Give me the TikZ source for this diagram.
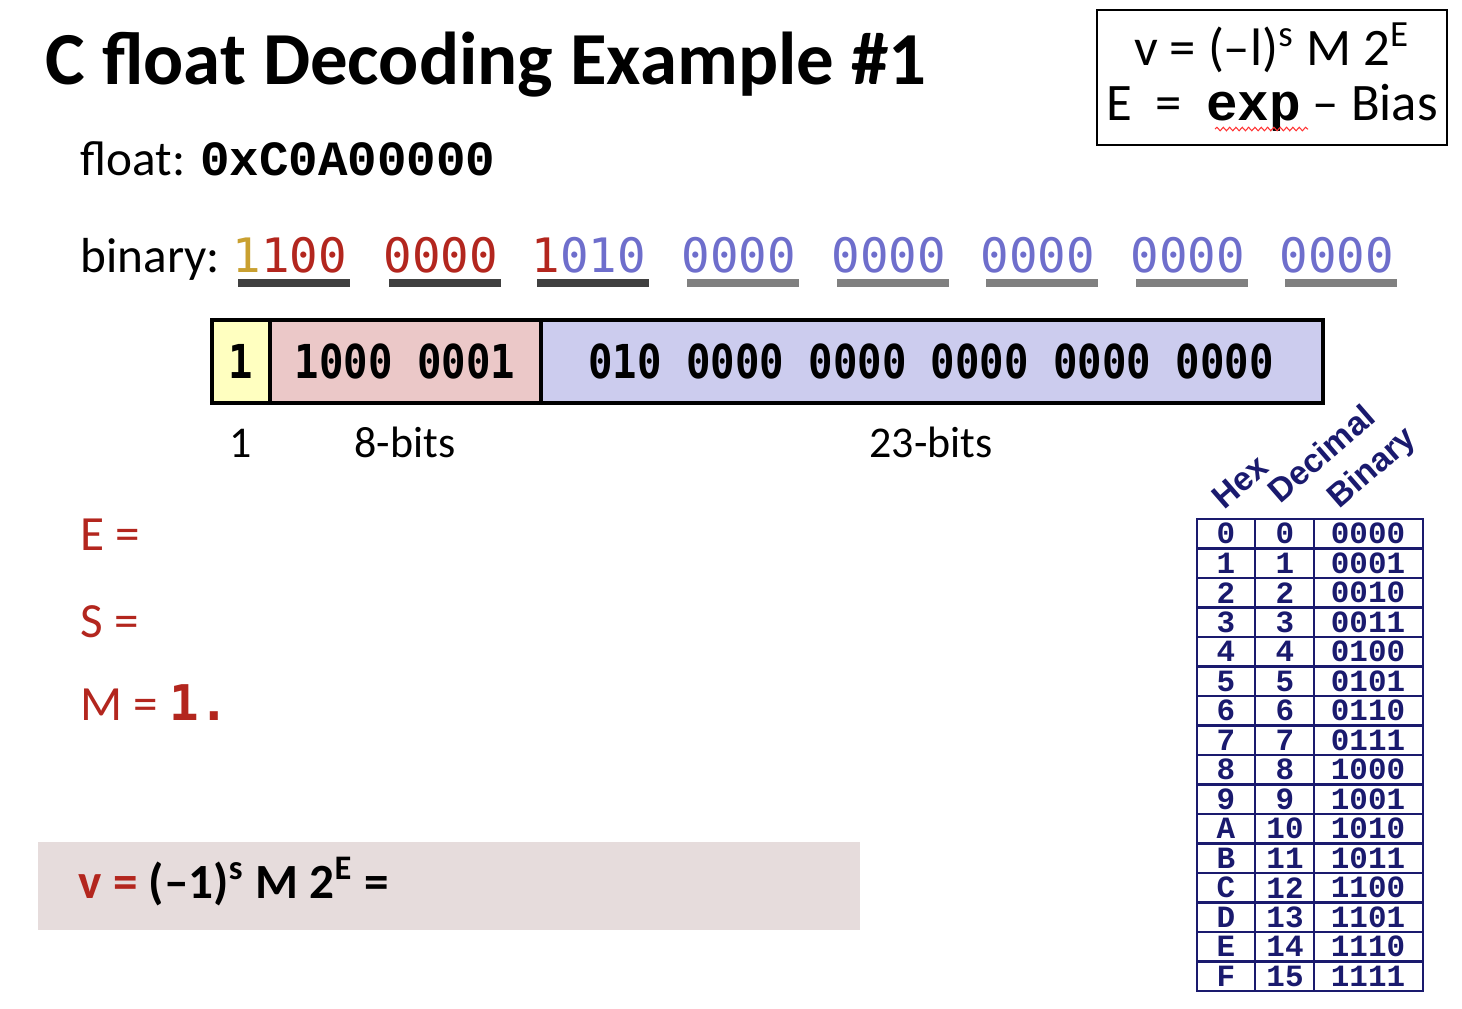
\documentclass[tikz,border=0pt]{standalone}
\usepackage{fontspec}
\usetikzlibrary{decorations.pathmorphing}
\setmainfont{Carlito}
\newfontfamily\courb{Liberation Mono}
\newfontfamily\sansmono{DejaVu Sans Mono}
\newfontfamily\boxmono[FakeStretch=0.87]{DejaVu Sans Mono}
\newfontfamily\arial{Liberation Sans}
\definecolor{gold}{HTML}{C9A030}
\definecolor{fred}{HTML}{B3261E}
\definecolor{bitblue}{HTML}{6E6ECC}
\definecolor{bardark}{HTML}{404040}
\definecolor{barlight}{HTML}{808080}
\definecolor{signfill}{HTML}{FFFFC0}
\definecolor{expfill}{HTML}{EBC8C8}
\definecolor{fracfill}{HTML}{CCCCEE}
\definecolor{vfill}{HTML}{E6DCDC}
\definecolor{navy}{HTML}{1A1A6E}
\begin{document}
\begin{tikzpicture}[x=0.1mm,y=-0.1mm,
    every node/.style={inner sep=0pt},
    txt/.style={font=\fontsize{14}{16}\selectfont, anchor=base west},
    width/.style={font=\fontsize{12.5}{15}\selectfont, anchor=base},
    grp/.style={font=\sansmono\fontsize{13.5}{16}\selectfont, anchor=base west, text=bitblue},
    boxbits/.style={font=\boxmono\bfseries\fontsize{13.3}{16}\selectfont},
    tab/.style={font=\courb\bfseries\fontsize{8.8}{10}\selectfont, text=navy},
    head/.style={font=\arial\bfseries\fontsize{9.5}{11}\selectfont, text=navy, rotate=41, anchor=base west}]
  \useasboundingbox (0,0) rectangle (1462,1008);
  % title
  \node[anchor=base west, font=\bfseries\fontsize{21.3}{25}\selectfont] (title) at (45,84) {C float Decoding Example \#1};
  \node[txt] (flt) at (80,175) {float: {\courb\bfseries 0xC0A00000}};
  % formula box
  \draw[line width=0.6pt] (1097,10) rectangle (1447,145);
  \node[font=\fontsize{15}{18}\selectfont, anchor=base] (vdef) at (1272,65) {v = (–l)\textsuperscript{s} M 2\textsuperscript{E}};
  \node[font=\fontsize{15}{18}\selectfont, anchor=base] (edef) at (1272,120) {E \ = \ {\courb\bfseries exp} – Bias};
  \draw[red!80, line width=0.3pt, decorate, decoration={snake, amplitude=0.5pt, segment length=1.8pt}] (1215,129) -- (1308,129);
  % binary digits
  \node[txt] (binlbl) at (80,272) {binary:};
  \foreach \bx/\bits/\barcol [count=\i] in {232/{\textcolor{gold}{1}\textcolor{fred}{100}}/bardark,
      383/{\textcolor{fred}{0000}}/bardark, 531/{\textcolor{fred}{1}010}/bardark, 681/0000/barlight,
      831/0000/barlight, 980/0000/barlight, 1130/0000/barlight, 1279/0000/barlight}{
    \node[grp] (grp\i) at (\bx,272) {\bits};
    \fill[\barcol] (\bx+6,279) rectangle (\bx+118,287);
  }
  % bit fields
  \fill[signfill] (212,320) rectangle (270,403);
  \fill[expfill] (270,320) rectangle (541,403);
  \fill[fracfill] (541,320) rectangle (1323,403);
  \draw[line width=1pt] (212,320) rectangle (1323,403) (270,320) -- (270,403) (541,320) -- (541,403);
  \node[boxbits] (sbit) at (241,361) {1};
  \node[boxbits] (ebits) at (405,361) {1000 0001};
  \node[boxbits] (fbits) at (931,361) {010 0000 0000 0000 0000 0000};
  \node[width] (w1) at (241,457) {1};
  \node[width] (w8) at (405,457) {8-bits};
  \node[width] (w23) at (931,457) {23-bits};
  % fields to fill in
  \node[txt, text=fred] (Eeq) at (80,550) {E =};
  \node[txt, text=fred] (Seq) at (80,637) {S =};
  \node[txt, text=fred] (Meq) at (80,720) {M = {\sansmono\bfseries 1.}};
  \fill[vfill] (38,842) rectangle (860,930);
  \node[txt, font=\bfseries\fontsize{14}{16}\selectfont] (vval) at (78,898) {\textcolor{fred}{v =} (–1)\textsuperscript{s} M 2\textsuperscript{E} =};
  % hex table
  \node[head] (hhex) at (1224,511) {Hex};
  \node[head] (hdec) at (1280,505) {Decimal};
  \node[head] (hbin) at (1339,510) {Binary};
  \draw[navy, line width=0.6pt] (1197,519) rectangle (1423,991) (1255,519) -- (1255,991) (1314,519) -- (1314,991);
  \foreach \r in {1,...,15}
    \draw[navy, line width=0.6pt] (1197,{519+29.5*\r}) -- (1423,{519+29.5*\r});
  \foreach \h/\b [count=\r from 0] in {0/0000,1/0001,2/0010,3/0011,4/0100,5/0101,6/0110,7/0111,
      8/1000,9/1001,A/1010,B/1011,C/1100,D/1101,E/1110,F/1111}{
    \node[tab] (thex\r) at (1226,{533.75+29.5*\r}) {\h};
    \node[tab] (tdec\r) at (1285,{533.75+29.5*\r}) {\r};
    \node[tab] (tbin\r) at (1368,{533.75+29.5*\r}) {\b};
  }
\end{tikzpicture}
\end{document}
